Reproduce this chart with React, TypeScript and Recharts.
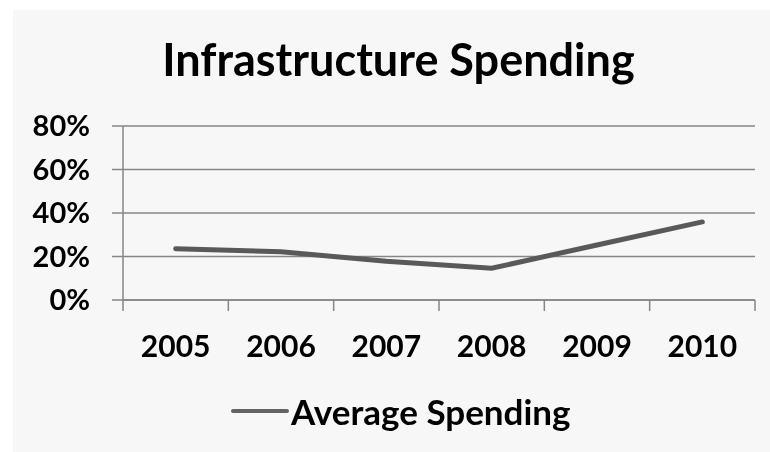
import React from "react";
import { LineChart, Line, XAxis, YAxis, CartesianGrid, Legend } from "recharts";

const years = ["2005", "2006", "2007", "2008", "2009", "2010"];
const avgSpending = [23.6, 22.2, 17.8, 14.6, 25.3, 35.9];
const yTicks = [0, 20, 40, 60, 80];
const seriesName = "Average Spending";
const title = "Infrastructure Spending";

const data = years.map((year, i) => ({ year, value: avgSpending[i] }));

const FONT = "Lato, 'Open Sans', sans-serif";
const AXIS = "#868686";
const LINE = "#595959";

function YearTick(props: any) {
  const { x, y, payload, index, visibleTicksCount } = props;
  const count = visibleTicksCount || years.length;
  const w = typeof props.width === "number" ? props.width : 632;
  const band = w / count;
  const left = x - band / 2;
  return (
    <g>
      <line x1={left} x2={left} y1={y} y2={y + 11} stroke={AXIS} strokeWidth={1.5} />
      {index === count - 1 && (
        <line x1={left + band} x2={left + band} y1={y} y2={y + 11} stroke={AXIS} strokeWidth={1.5} />
      )}
      <text x={x} y={y + 45} textAnchor="middle" dominantBaseline="central" fill="#000" fontSize={30} fontWeight={700} fontFamily={FONT}>
        {payload.value}
      </text>
    </g>
  );
}

function LegendContent() {
  return (
    <div style={{ display: "flex", alignItems: "center", height: 40, fontFamily: FONT, fontWeight: 700, fontSize: 35, color: "#000" }}>
      <svg width={60} height={10}>
        <line x1={2} x2={56} y1={5} y2={5} stroke="#646464" strokeWidth={4} strokeLinecap="round" />
      </svg>
      <span>{seriesName}</span>
    </div>
  );
}

export default function App() {
  return (
    <div style={{ position: "fixed", left: 0, top: 0, width: 770, height: 452, background: "#fff" }}>
      <div style={{ position: "absolute", left: 13, top: 10, width: 757, height: 442, background: "#f7f7f7" }}>
        <div
          style={{
            position: "absolute",
            left: 0,
            width: 771,
            top: 27,
            textAlign: "center",
            fontFamily: FONT,
            fontWeight: 700,
            fontSize: 45,
            lineHeight: "45px",
            color: "#000",
          }}
        >
          {title}
        </div>
        <LineChart width={757} height={442} data={data} margin={{ top: 116, right: 15, bottom: 0, left: 0 }}>
          <CartesianGrid vertical={false} stroke={AXIS} strokeWidth={1.5} />
          <XAxis
            dataKey="year"
            scale="band"
            height={152}
            axisLine={{ stroke: AXIS, strokeWidth: 1.5 }}
            tickLine={false}
            tickSize={0}
            tickMargin={0}
            tick={<YearTick />}
            interval={0}
          />
          <YAxis
            width={110}
            domain={[0, 80]}
            ticks={yTicks}
            interval={0}
            tickFormatter={(v: number) => `${v}%`}
            axisLine={{ stroke: AXIS, strokeWidth: 1.5 }}
            tickLine={{ stroke: AXIS, strokeWidth: 1.5 }}
            tickSize={11}
            tickMargin={22}
            tick={{ fill: "#000", fontSize: 29, fontWeight: 700, fontFamily: FONT }}
          />
          <Legend
            verticalAlign="middle"
            align="center"
            content={<LegendContent />}
            wrapperStyle={{ position: "absolute", left: 218, top: 381, width: 480 }}
          />
          <Line
            type="linear"
            dataKey="value"
            name={seriesName}
            stroke={LINE}
            strokeWidth={5}
            strokeLinecap="round"
            dot={false}
            activeDot={false}
            isAnimationActive={false}
          />
        </LineChart>
      </div>
    </div>
  );
}
